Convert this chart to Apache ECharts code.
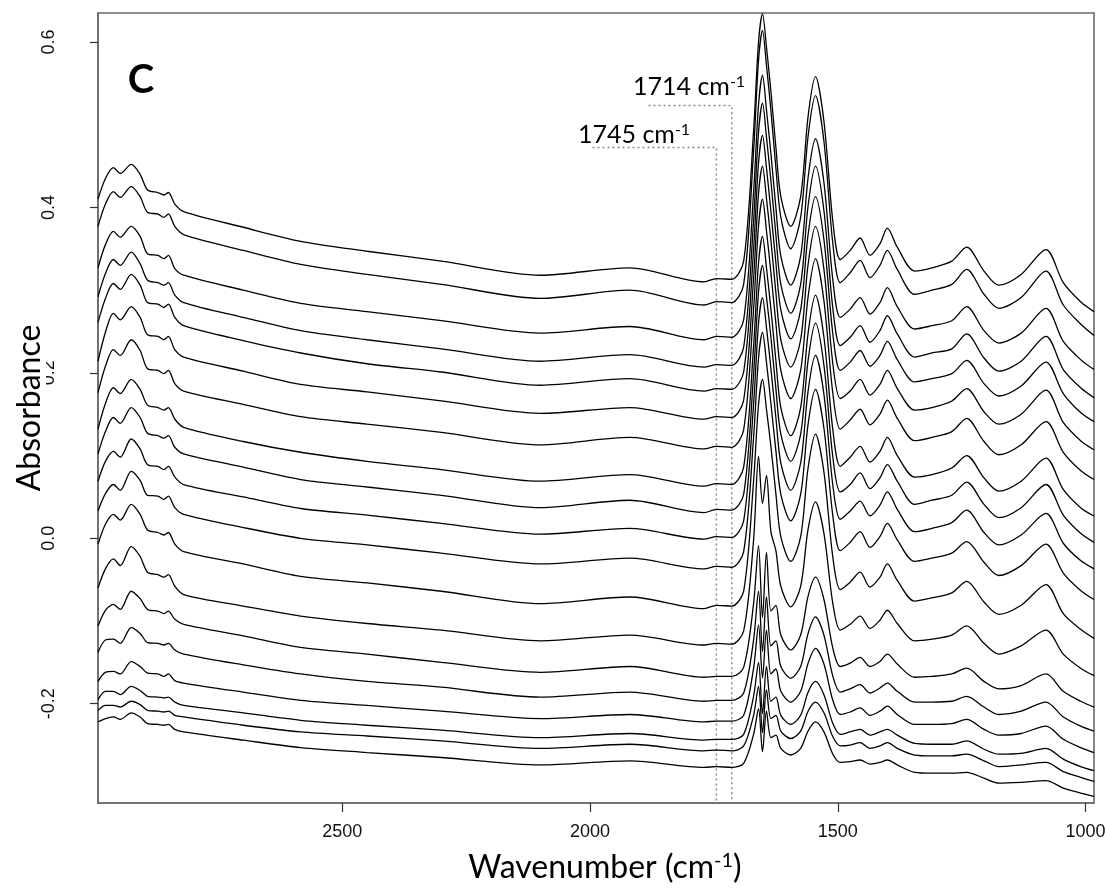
<!DOCTYPE html>
<html>
<head>
<meta charset="utf-8">
<script src="https://cdn.jsdelivr.net/npm/echarts@6/dist/echarts.min.js"></script>
<style>html,body{margin:0;padding:0;background:#fff;}#c{width:1105px;height:890px;}</style>
</head>
<body>
<div id="c"></div>
<script>
// Wavenumbers (cm-1) shared by every spectrum
const WN = [2993,2978,2962,2948,2926,2908,2893,2872,2860,2851,2838,2820,2700,2584,2450,2300,2100,1920,1770,1745,1714,1690,1670,1660,1652,1644,1635,1625,1615,1595,1575,1560,1545,1528,1510,1495,1475,1455,1435,1415,1400,1380,1345,1310,1270,1240,1205,1175,1130,1080,1045,1010,983];

// Absorbance of each spectrum, top to bottom
const abs01 = [0.410,0.435,0.448,0.441,0.452,0.440,0.421,0.418,0.415,0.418,0.404,0.395,0.376,0.359,0.347,0.335,0.318,0.327,0.310,0.314,0.313,0.335,0.492,0.600,0.634,0.594,0.540,0.473,0.413,0.377,0.413,0.510,0.558,0.504,0.383,0.337,0.348,0.363,0.342,0.356,0.375,0.352,0.323,0.327,0.335,0.352,0.323,0.306,0.319,0.349,0.309,0.286,0.274];
const abs02 = [0.377,0.404,0.419,0.412,0.425,0.413,0.394,0.392,0.388,0.392,0.377,0.367,0.348,0.331,0.319,0.307,0.290,0.300,0.282,0.286,0.285,0.307,0.468,0.578,0.614,0.572,0.517,0.448,0.388,0.350,0.388,0.486,0.535,0.480,0.356,0.309,0.321,0.336,0.315,0.330,0.348,0.325,0.295,0.300,0.307,0.325,0.295,0.278,0.291,0.323,0.282,0.259,0.245];
const abs03 = [0.327,0.355,0.371,0.364,0.377,0.365,0.344,0.342,0.338,0.342,0.326,0.318,0.300,0.284,0.274,0.263,0.248,0.256,0.240,0.244,0.243,0.264,0.418,0.524,0.560,0.518,0.465,0.400,0.341,0.306,0.341,0.436,0.483,0.430,0.312,0.267,0.277,0.291,0.271,0.285,0.303,0.280,0.253,0.257,0.263,0.280,0.251,0.236,0.248,0.278,0.238,0.216,0.204];
const abs04 = [0.292,0.320,0.337,0.330,0.346,0.332,0.312,0.309,0.306,0.309,0.294,0.285,0.267,0.251,0.240,0.229,0.214,0.222,0.207,0.210,0.209,0.231,0.384,0.491,0.526,0.485,0.432,0.367,0.307,0.272,0.307,0.402,0.450,0.396,0.278,0.233,0.243,0.257,0.237,0.251,0.269,0.247,0.219,0.224,0.229,0.247,0.218,0.202,0.214,0.244,0.204,0.182,0.170];
const abs05 = [0.261,0.290,0.308,0.301,0.319,0.306,0.285,0.283,0.279,0.283,0.267,0.257,0.239,0.224,0.211,0.201,0.185,0.193,0.178,0.181,0.180,0.201,0.349,0.454,0.487,0.448,0.395,0.333,0.276,0.241,0.276,0.367,0.413,0.361,0.247,0.203,0.213,0.227,0.208,0.221,0.238,0.216,0.189,0.193,0.199,0.215,0.187,0.172,0.184,0.213,0.175,0.152,0.141];
const abs06 = [0.214,0.249,0.272,0.264,0.280,0.267,0.246,0.244,0.240,0.244,0.228,0.219,0.202,0.186,0.177,0.166,0.151,0.158,0.144,0.147,0.146,0.167,0.314,0.417,0.450,0.411,0.360,0.297,0.240,0.207,0.240,0.331,0.377,0.325,0.211,0.169,0.178,0.192,0.173,0.186,0.203,0.181,0.155,0.158,0.166,0.181,0.153,0.138,0.150,0.179,0.140,0.118,0.107];
const abs07 = [0.176,0.208,0.228,0.221,0.240,0.227,0.205,0.203,0.199,0.203,0.187,0.178,0.162,0.147,0.138,0.128,0.113,0.122,0.108,0.111,0.110,0.131,0.277,0.378,0.410,0.372,0.321,0.260,0.203,0.169,0.203,0.292,0.338,0.287,0.175,0.132,0.143,0.156,0.137,0.150,0.167,0.145,0.118,0.122,0.129,0.145,0.117,0.101,0.113,0.141,0.104,0.082,0.071];
const abs08 = [0.132,0.163,0.182,0.175,0.192,0.180,0.161,0.158,0.155,0.158,0.144,0.134,0.117,0.104,0.093,0.083,0.069,0.077,0.063,0.066,0.065,0.086,0.232,0.333,0.365,0.327,0.277,0.215,0.158,0.124,0.158,0.248,0.294,0.243,0.131,0.087,0.098,0.111,0.092,0.105,0.122,0.100,0.074,0.077,0.085,0.100,0.073,0.057,0.069,0.097,0.059,0.037,0.027];
const abs09 = [0.102,0.129,0.146,0.139,0.158,0.146,0.127,0.124,0.121,0.124,0.110,0.102,0.086,0.071,0.062,0.052,0.037,0.046,0.031,0.035,0.034,0.053,0.198,0.298,0.330,0.292,0.243,0.181,0.126,0.093,0.126,0.215,0.260,0.209,0.098,0.056,0.065,0.079,0.060,0.073,0.089,0.069,0.041,0.046,0.052,0.068,0.041,0.025,0.037,0.065,0.028,0.006,-0.005];
const abs10 = [0.069,0.093,0.105,0.098,0.120,0.108,0.089,0.087,0.083,0.087,0.074,0.065,0.050,0.036,0.028,0.018,0.005,0.012,-0.001,0.002,0.001,0.021,0.162,0.260,0.291,0.255,0.205,0.146,0.091,0.058,0.091,0.178,0.221,0.174,0.064,0.023,0.033,0.045,0.027,0.040,0.056,0.035,0.008,0.012,0.019,0.034,0.007,-0.008,0.004,0.030,-0.006,-0.027,-0.037];
const abs11 = [0.033,0.054,0.065,0.058,0.081,0.070,0.052,0.051,0.047,0.051,0.037,0.029,0.013,0.000,-0.008,-0.018,-0.031,-0.024,-0.037,-0.034,-0.035,-0.016,0.122,0.218,0.249,0.213,0.163,0.106,0.053,0.021,0.053,0.138,0.180,0.133,0.027,-0.015,-0.005,0.008,-0.011,0.002,0.018,-0.002,-0.028,-0.024,-0.018,-0.004,-0.029,-0.045,-0.033,-0.007,-0.042,-0.063,-0.074];
const abs12 = [-0.007,0.017,0.029,0.022,0.041,0.029,0.010,0.007,0.004,0.007,-0.007,-0.016,-0.031,-0.046,-0.054,-0.064,-0.079,-0.071,-0.085,-0.081,-0.082,-0.064,0.069,0.162,0.192,0.156,0.111,0.054,0.002,-0.028,0.002,0.085,0.126,0.080,-0.023,-0.062,-0.053,-0.041,-0.059,-0.047,-0.031,-0.051,-0.076,-0.072,-0.066,-0.052,-0.077,-0.092,-0.081,-0.056,-0.091,-0.110,-0.121];
const abs13 = [-0.060,-0.037,-0.025,-0.033,-0.010,-0.022,-0.041,-0.044,-0.047,-0.044,-0.058,-0.068,-0.082,-0.094,-0.103,-0.111,-0.124,-0.117,-0.129,-0.127,-0.128,-0.112,-0.002,0.099,0.042,0.076,0.008,-0.015,-0.058,-0.083,-0.058,0.011,0.044,0.006,-0.079,-0.111,-0.104,-0.094,-0.109,-0.099,-0.087,-0.103,-0.124,-0.122,-0.117,-0.106,-0.127,-0.140,-0.130,-0.111,-0.140,-0.157,-0.166];
const abs14 = [-0.106,-0.087,-0.080,-0.086,-0.064,-0.073,-0.086,-0.088,-0.091,-0.088,-0.098,-0.104,-0.118,-0.132,-0.140,-0.150,-0.162,-0.155,-0.168,-0.167,-0.167,-0.156,-0.079,-0.009,-0.096,-0.017,-0.088,-0.081,-0.117,-0.135,-0.117,-0.070,-0.047,-0.074,-0.133,-0.155,-0.151,-0.144,-0.155,-0.149,-0.140,-0.152,-0.168,-0.167,-0.164,-0.157,-0.173,-0.182,-0.178,-0.164,-0.185,-0.197,-0.204];
const abs15 = [-0.138,-0.123,-0.122,-0.127,-0.108,-0.115,-0.126,-0.127,-0.129,-0.127,-0.135,-0.140,-0.153,-0.164,-0.173,-0.180,-0.192,-0.186,-0.197,-0.196,-0.196,-0.187,-0.123,-0.064,-0.137,-0.071,-0.130,-0.124,-0.155,-0.169,-0.155,-0.115,-0.095,-0.117,-0.167,-0.186,-0.182,-0.177,-0.187,-0.181,-0.175,-0.185,-0.198,-0.198,-0.197,-0.191,-0.204,-0.213,-0.209,-0.198,-0.216,-0.227,-0.233];
const abs16 = [-0.173,-0.162,-0.161,-0.164,-0.149,-0.155,-0.163,-0.164,-0.167,-0.164,-0.172,-0.175,-0.186,-0.196,-0.202,-0.209,-0.218,-0.213,-0.222,-0.221,-0.221,-0.214,-0.157,-0.105,-0.169,-0.111,-0.164,-0.158,-0.185,-0.198,-0.185,-0.151,-0.133,-0.152,-0.196,-0.213,-0.210,-0.205,-0.214,-0.209,-0.203,-0.213,-0.225,-0.225,-0.224,-0.219,-0.231,-0.238,-0.236,-0.227,-0.243,-0.253,-0.259];
const abs17 = [-0.195,-0.185,-0.185,-0.189,-0.179,-0.184,-0.191,-0.192,-0.193,-0.192,-0.198,-0.202,-0.211,-0.220,-0.226,-0.232,-0.241,-0.236,-0.244,-0.243,-0.243,-0.237,-0.191,-0.150,-0.212,-0.155,-0.197,-0.192,-0.214,-0.225,-0.214,-0.186,-0.173,-0.189,-0.224,-0.237,-0.234,-0.231,-0.238,-0.234,-0.231,-0.238,-0.248,-0.249,-0.249,-0.245,-0.255,-0.261,-0.260,-0.254,-0.267,-0.276,-0.281];
const abs18 = [-0.208,-0.202,-0.202,-0.204,-0.197,-0.201,-0.208,-0.209,-0.210,-0.209,-0.214,-0.216,-0.226,-0.234,-0.239,-0.245,-0.254,-0.249,-0.257,-0.256,-0.257,-0.251,-0.214,-0.179,-0.235,-0.183,-0.218,-0.214,-0.233,-0.242,-0.233,-0.209,-0.198,-0.211,-0.240,-0.251,-0.250,-0.247,-0.254,-0.251,-0.247,-0.254,-0.262,-0.263,-0.263,-0.261,-0.269,-0.276,-0.274,-0.271,-0.282,-0.289,-0.294];
const abs19 = [-0.222,-0.218,-0.216,-0.219,-0.211,-0.216,-0.224,-0.225,-0.226,-0.225,-0.231,-0.234,-0.244,-0.253,-0.259,-0.265,-0.274,-0.269,-0.277,-0.276,-0.277,-0.272,-0.237,-0.206,-0.258,-0.209,-0.241,-0.238,-0.254,-0.262,-0.254,-0.233,-0.222,-0.234,-0.261,-0.271,-0.270,-0.268,-0.273,-0.271,-0.268,-0.274,-0.283,-0.284,-0.284,-0.283,-0.290,-0.296,-0.295,-0.293,-0.302,-0.308,-0.312];

const SPECTRA = [abs01,abs02,abs03,abs04,abs05,abs06,abs07,abs08,abs09,abs10,abs11,abs12,abs13,abs14,abs15,abs16,abs17,abs18,abs19];

// Axis ticks
const X_TICKS = [1000, 1500, 2000, 2500];
const Y_TICKS = [-0.2, 0.0, 0.2, 0.4, 0.6];
const X_RANGE = [983, 2993];
const Y_RANGE = [-0.32, 0.635];

// Marked bands: [wavenumber, height of leader, left end of leader]
const MARK_1745 = [1745, 0.4725, 1995];
const MARK_1714 = [1714, 0.5233, 1882];

const chart = echarts.init(document.getElementById('c'), null, {renderer: 'canvas'});

const series = SPECTRA.map((arr, i) => ({
  type: 'line',
  name: 'spectrum ' + (i + 1),
  data: WN.map((w, k) => [w, arr[k]]),
  symbol: 'none',
  smooth: 0.3,
  lineStyle: {color: '#000', width: 1.3},
  z: 3,
  silent: true
}));

function leader(m) {
  return {
    type: 'line',
    data: [[m[2], m[1]], [m[0], m[1]], [m[0], Y_RANGE[0]]],
    symbol: 'none',
    lineStyle: {color: '#8a8a8a', width: 1.5, type: [2, 3]},
    z: 2,
    silent: true
  };
}
series.push(leader(MARK_1745));
series.push(leader(MARK_1714));

const tickFont = {fontFamily: 'Liberation Sans', fontSize: 18, color: '#111'};

chart.setOption({
  animation: false,
  backgroundColor: '#fff',
  grid: {left: 98, right: 11, top: 13, bottom: 87, containLabel: false, outerBoundsMode: 'none',
         show: true, borderColor: '#6b6b6b', borderWidth: 1.6, backgroundColor: 'transparent'},
  xAxis: {
    type: 'value', inverse: true, min: X_RANGE[0], max: X_RANGE[1],
    splitLine: {show: false},
    axisLine: {show: true, onZero: false, lineStyle: {color: '#6b6b6b', width: 1.6}},
    axisTick: {show: true, length: 9, inside: false, customValues: X_TICKS, lineStyle: {color: '#333', width: 1.2}},
    axisLabel: Object.assign({customValues: X_TICKS, margin: 20, formatter: v => String(v)}, tickFont)
  },
  yAxis: {
    type: 'value', min: Y_RANGE[0], max: Y_RANGE[1],
    splitLine: {show: false},
    axisLine: {show: true, onZero: false, lineStyle: {color: '#6b6b6b', width: 1.6}},
    axisTick: {show: true, length: 8, inside: false, customValues: Y_TICKS, lineStyle: {color: '#333', width: 1.2}},
    axisLabel: Object.assign({customValues: Y_TICKS, rotate: 90, margin: 40, formatter: v => v.toFixed(1)}, tickFont)
  },
  graphic: [
    {type: 'text', x: 605, y: 868, style: {
      text: 'Wavenumber (cm{s|-1})',
      font: '32px Lato', fill: '#000', textAlign: 'center', textVerticalAlign: 'middle',
      rich: {s: {fontSize: 20, fontFamily: 'Lato', verticalAlign: 'top', padding: [0,0,15,0]}}
    }},
    {type: 'text', x: 30, y: 408, rotation: Math.PI / 2, style: {
      text: 'Absorbance', font: '32px Lato', fill: '#000', textAlign: 'center', textVerticalAlign: 'middle',
      lineHeight: 32, backgroundColor: '#fff', padding: [0, 3]
    }, z: 10},
    {type: 'text', x: 141, y: 80, style: {
      text: 'C', font: 'bold 40px Lato', fill: '#000', textAlign: 'center', textVerticalAlign: 'middle'
    }},
    {type: 'text', x: 578, y: 135, style: {
      text: '1745 cm{s|-1}', font: '25px Lato', fill: '#000', textAlign: 'left', textVerticalAlign: 'middle',
      rich: {s: {fontSize: 16, fontFamily: 'Lato', verticalAlign: 'top', padding: [0,0,10,0]}}
    }},
    {type: 'text', x: 633, y: 87, style: {
      text: '1714 cm{s|-1}', font: '25px Lato', fill: '#000', textAlign: 'left', textVerticalAlign: 'middle',
      rich: {s: {fontSize: 16, fontFamily: 'Lato', verticalAlign: 'top', padding: [0,0,10,0]}}
    }}
  ],
  series: series
});
</script>
</body>
</html>
